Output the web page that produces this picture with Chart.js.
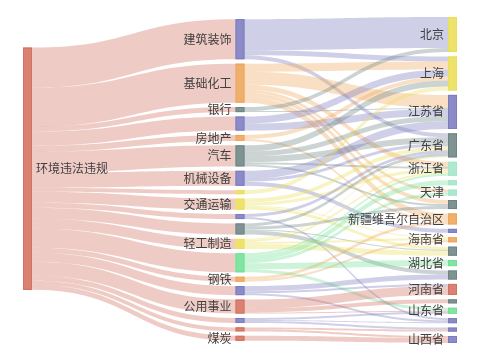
<!DOCTYPE html>
<html><head><meta charset="utf-8">
<script src="https://cdn.jsdelivr.net/npm/chart.js@4/dist/chart.umd.min.js"></script>
<style>html,body{margin:0;padding:0;background:#fff}#wrap{width:480px;height:360px}</style>
</head><body><div id="wrap"><canvas id="c" width="480" height="360"></canvas></div>
<script>
// ---- data ----
const leftLabels = ['环境违法违规'];
const midLabels = ['建筑装饰','基础化工','银行','','房地产','汽车','机械设备','','交通运输','','','轻工制造','','钢铁','','公用事业','','','煤炭'];
const rightLabels = ['北京','上海','江苏省','广东省','浙江省','','天津','','新疆维吾尔自治区','','海南省','','湖北省','','河南省','','山东省','','','山西省'];
// flows from middle nodes (index) to right nodes (index)
const flowFrom  = [0,0,0, 1,1,1,1,1,1, 2,2, 3,3, 4,4, 5,5,5,5,5, 6,6,6, 7, 8,8,8,8, 9,9, 10,10,10,10, 11,11,11,11, 12,12,12,12,12, 13,13, 14,14,14, 15,15,15, 16,16,16, 17,17, 18];
const flowTo    = [0,1,3, 1,2,4,6,7,8, 0,2, 1,2, 1,8, 1,2,3,4,7, 2,3,9, 1, 3,4,10,11, 3,17, 3,7,11,13, 3,4,10,11, 4,5,6,12,16, 8,10, 13,14,17, 14,15,16, 16,17,18, 18,19, 19];
const flowValue = [31,5,4, 8,13,5,3,4,6, 4,1, 7,7, 4,2, 6,5,6,2,2, 8,3,4, 4, 4,3,1,3, 3,2, 3,3,1,4, 1,2,2,5, 2,5,3,6,3, 3,2, 5,2,2, 9,4,1, 2,1,2, 2,2, 5];

// ---- styles ----
const C = {red:'#d4705e', purple:'#7b7bbf', orange:'#eda55a', grey:'#6e8484', yellow:'#ebdf58', green:'#6fe094', mint:'#a3e6c8'};
const leftColors = [C.red];
const midColors = [C.purple,C.orange,C.grey,C.purple,C.orange,C.grey,C.purple,C.yellow,C.yellow,C.purple,C.grey,C.yellow,C.green,C.orange,C.purple,C.red,C.purple,C.red,C.red];
const rightColors = [C.yellow,C.yellow,C.purple,C.grey,C.mint,C.mint,C.mint,C.grey,C.orange,C.purple,C.orange,C.grey,C.green,C.grey,C.red,C.grey,C.green,C.purple,C.purple,C.purple];
const NODE_GAP = 4.4, NODE_W = 9, LINK_ALPHA = 0.36;

function rgba(hex,a){const n=parseInt(hex.slice(1),16);return `rgba(${n>>16&255},${n>>8&255},${n&255},${a})`;}

// ---- layout in value units ----
const midVal = midLabels.map((_,i)=>flowFrom.reduce((s,f,k)=>s+(f===i?flowValue[k]:0),0));
const rightVal = rightLabels.map((_,i)=>flowTo.reduce((s,t,k)=>s+(t===i?flowValue[k]:0),0));
const total = midVal.reduce((a,b)=>a+b,0);
const maxCount = Math.max(midLabels.length, rightLabels.length);
const yMax = total + (maxCount-1)*NODE_GAP;
function stack(vals){
  const span = vals.reduce((a,b)=>a+b,0) + (vals.length-1)*NODE_GAP;
  let y = (yMax-span)/2; const out=[];
  vals.forEach(v=>{out.push({y0:y,y1:y+v,v});y+=v+NODE_GAP;});
  return out;
}
const midNodes = stack(midVal);
const rightNodes = stack(rightVal);
// left node centred on the weighted centre of its targets
const wc = midNodes.reduce((s,n)=>s+n.v*(n.y0+n.y1)/2,0)/total;
const leftNodes = [{y0:wc-total/2, y1:wc+total/2, v:total}];

const sankeyPlugin = {
  id:'sankey',
  afterDraw(chart){
    const ctx = chart.ctx, xs = chart.scales.x, ys = chart.scales.y;
    const colX = c => { const p = xs.getPixelForValue(c); return c===0 ? p : (c===2 ? p-NODE_W : p-NODE_W/2); };
    const py = v => ys.getPixelForValue(v);
    function band(xa, a0, a1, xb, b0, b1, color){
      const xm = (xa+xb)/2;
      ctx.beginPath();
      ctx.moveTo(xa, py(a0));
      ctx.bezierCurveTo(xm, py(a0), xm, py(b0), xb, py(b0));
      ctx.lineTo(xb, py(b1));
      ctx.bezierCurveTo(xm, py(b1), xm, py(a1), xa, py(a1));
      ctx.closePath();
      ctx.fillStyle = color; ctx.fill();
    }
    ctx.save();
    // left -> middle links
    let off = leftNodes[0].y0;
    midNodes.forEach((n,i)=>{
      band(colX(0)+NODE_W, off, off+n.v, colX(1), n.y0, n.y1, rgba(leftColors[0],LINK_ALPHA));
      off += n.v;
    });
    // middle -> right links
    const idx = flowFrom.map((_,k)=>k);
    const srcOff = midNodes.map(n=>n.y0), tgtOff = rightNodes.map(n=>n.y0);
    const srcPos = {}, tgtPos = {};
    idx.slice().sort((a,b)=>flowFrom[a]-flowFrom[b]||flowTo[a]-flowTo[b]).forEach(k=>{srcPos[k]=srcOff[flowFrom[k]];srcOff[flowFrom[k]]+=flowValue[k];});
    idx.slice().sort((a,b)=>flowTo[a]-flowTo[b]||flowFrom[a]-flowFrom[b]).forEach(k=>{tgtPos[k]=tgtOff[flowTo[k]];tgtOff[flowTo[k]]+=flowValue[k];});
    idx.forEach(k=>{
      const v=flowValue[k];
      band(colX(1)+NODE_W, srcPos[k], srcPos[k]+v, colX(2), tgtPos[k], tgtPos[k]+v, rgba(midColors[flowFrom[k]],LINK_ALPHA));
    });
    // nodes
    function drawNodes(nodes, colors, col){
      nodes.forEach((n,i)=>{
        const x=colX(col), y0=py(n.y0), h=py(n.y1)-y0;
        ctx.fillStyle = rgba(colors[i],0.88);
        ctx.fillRect(x,y0,NODE_W,h);
        ctx.strokeStyle = colors[i]; ctx.lineWidth=1;
        ctx.strokeRect(x+0.5,y0+0.5,NODE_W-1,Math.max(h-1,0.5));
      });
    }
    drawNodes(leftNodes,leftColors,0);
    drawNodes(midNodes,midColors,1);
    drawNodes(rightNodes,rightColors,2);
    // labels
    ctx.font = '12px "Noto Sans CJK SC", sans-serif';
    ctx.fillStyle = '#404040'; ctx.textBaseline='middle';
    ctx.textAlign='left';
    leftNodes.forEach((n,i)=>ctx.fillText(leftLabels[i], colX(0)+NODE_W+4, py((n.y0+n.y1)/2)));
    ctx.textAlign='right';
    midNodes.forEach((n,i)=>{ if(midLabels[i]) ctx.fillText(midLabels[i], colX(1)-4, py((n.y0+n.y1)/2)); });
    rightNodes.forEach((n,i)=>{ if(rightLabels[i]) ctx.fillText(rightLabels[i], colX(2)-4, py((n.y0+n.y1)/2)); });
    ctx.restore();
  }
};

new Chart(document.getElementById('c'), {
  type:'scatter',
  data:{datasets:[{data:[]}]},
  options:{
    responsive:false, animation:false,
    layout:{padding:{left:23,right:23,top:17,bottom:17}},
    plugins:{legend:{display:false},tooltip:{enabled:false}},
    scales:{
      x:{type:'linear',min:0,max:2,display:false},
      y:{type:'linear',min:0,max:yMax,reverse:true,display:false}
    }
  },
  plugins:[sankeyPlugin]
});
</script></body></html>
